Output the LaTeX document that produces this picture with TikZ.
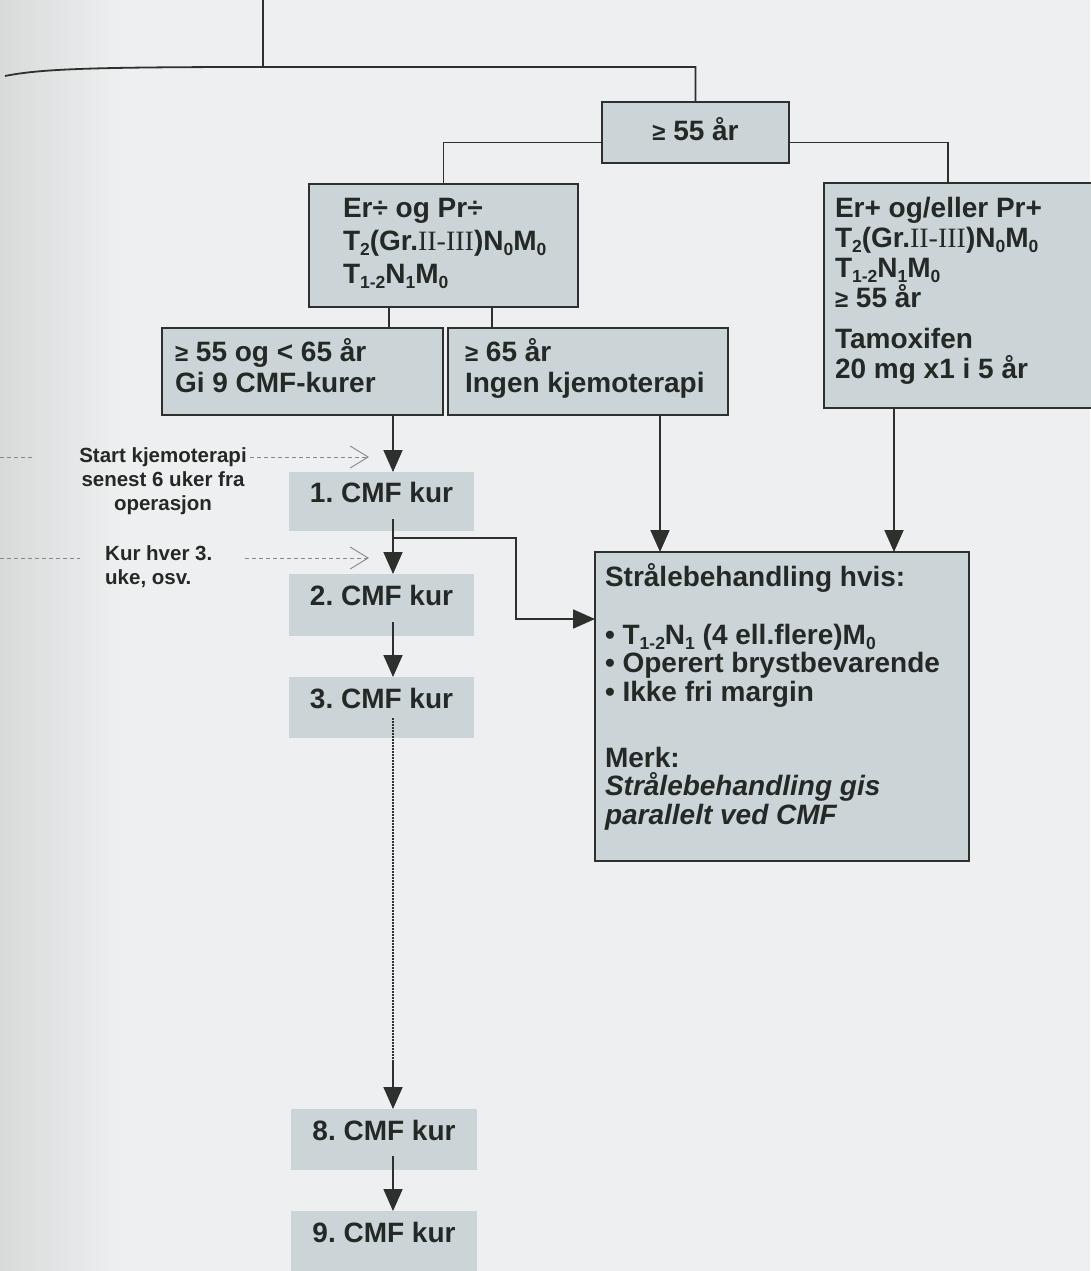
\documentclass[tikz,border=0pt]{standalone}
\usepackage{fontspec}
\setmainfont{Liberation Sans}
\newfontfamily\serifrm{Liberation Serif}
\usetikzlibrary{arrows.meta,calc}
\frenchspacing
\definecolor{bgc}{RGB}{238,239,240}
\definecolor{shadec}{RGB}{216,217,217}
\definecolor{boxc}{RGB}{203,212,215}
\definecolor{ink}{RGB}{36,41,37}
\definecolor{edge}{RGB}{45,48,45}
\definecolor{dashc}{RGB}{135,135,135}
\newcommand{\sbs}[1]{\raisebox{-5pt}{\fontsize{17.5}{17.5}\selectfont #1}}
\newcommand{\gesym}{{\fontsize{24}{24}\selectfont ≥}}
% h, w, leftskip, first baseline, baselineskip, content
\newcommand{\bxt}[6]{\parbox[c][#1][t]{#2}{\raggedright\leftskip=#3\fontsize{28}{#5}\selectfont\bfseries\rule{0pt}{#4}#6}}
% h, w, first baseline, content
\newcommand{\bxc}[4]{\parbox[c][#1][t]{#2}{\centering\fontsize{28}{30}\selectfont\bfseries\rule{0pt}{#3}#4}}
\begin{document}
\begin{tikzpicture}[x=1pt,y=-1pt,
  box/.style={draw=edge, line width=1.8pt, fill=boxc, inner sep=0pt, outer sep=0pt, text=ink},
  cmf/.style={fill=boxc, inner sep=0pt, outer sep=0pt, text=ink},
  ln/.style={line width=1.8pt, draw=edge},
  arr/.style={line width=1.8pt, draw=edge, -{Triangle[length=22pt,width=19pt]}},
  dotl/.style={line width=1.8pt, draw=edge, dash pattern=on 1.6pt off 1.4pt},
  dsh/.style={line width=0.9pt, draw=dashc, dash pattern=on 4pt off 3pt},
  dsharr/.style={dsh, -{Straight Barb[length=18pt,width=22pt,line width=0.9pt]}},
  side/.style={text=ink, font=\fontsize{20.5}{24}\selectfont\bfseries, inner sep=0pt}
]
\useasboundingbox (0,0) rectangle (1090,1271);
\fill[bgc] (0,0) rectangle (1090,1271);
\shade[left color=shadec, right color=bgc] (0,0) rectangle (120,1271);

% boxes
\node[box, minimum width=187pt, minimum height=61pt] (A) at (695.5,132.5)
  {\bxc{61pt}{187pt}{39pt}{\gesym{} 55 år}};
\node[box, minimum width=269pt, minimum height=123pt] (E1) at (443.5,245.5)
  {\bxt{123pt}{269pt}{34pt}{33pt}{33pt}{Er÷ og Pr÷\\
   T\sbs{2}(Gr.{\serifrm\mdseries II-III})N\sbs{0}M\sbs{0}\\
   T\sbs{1-2}N\sbs{1}M\sbs{0}}};
\node[box, minimum width=286pt, minimum height=225pt] (E2) at (967,295.5)
  {\bxt{225pt}{286pt}{11pt}{34pt}{30pt}{Er+ og/eller Pr+\\
   T\sbs{2}(Gr.{\serifrm\mdseries II-III})N\sbs{0}M\sbs{0}\\
   T\sbs{1-2}N\sbs{1}M\sbs{0}\\
   \gesym{} 55 år\\[11pt]
   Tamoxifen\\
   20 mg x1 i 5 år}};
\node[box, minimum width=281pt, minimum height=87pt] (B1) at (302.5,371.5)
  {\bxt{87pt}{281pt}{13pt}{33pt}{31pt}{\gesym{} 55 og < 65 år\\Gi 9 CMF-kurer}};
\node[box, minimum width=280pt, minimum height=87pt] (B2) at (588,371.5)
  {\bxt{87pt}{280pt}{17pt}{33pt}{31pt}{\gesym{} 65 år\\Ingen kjemoterapi}};

\node[cmf, minimum width=185pt, minimum height=59pt] (C1) at (381.5,501.5)
  {\bxc{59pt}{185pt}{30pt}{1. CMF kur}};
\node[cmf, minimum width=185pt, minimum height=62pt] (C2) at (381.5,605)
  {\bxc{62pt}{185pt}{31pt}{2. CMF kur}};
\node[cmf, minimum width=185pt, minimum height=61pt] (C3) at (381.5,707.5)
  {\bxc{61pt}{185pt}{31pt}{3. CMF kur}};
\node[cmf, minimum width=186pt, minimum height=61pt] (C8) at (384,1139.5)
  {\bxc{61pt}{186pt}{31pt}{8. CMF kur}};
\node[cmf, minimum width=186pt, minimum height=64pt] (C9) at (384,1243)
  {\bxc{64pt}{186pt}{31pt}{9. CMF kur}};

\node[box, minimum width=374pt, minimum height=309pt] (S) at (782,706.5)
  {\bxt{309pt}{374pt}{10pt}{34pt}{28.5pt}{Strålebehandling hvis:\\[29.5pt]
   • T\sbs{1-2}N\sbs{1} (4 ell.flere)M\sbs{0}\\
   • Operert brystbevarende\\
   • Ikke fri margin\\[37.5pt]
   Merk:\\
   \textit{Strålebehandling gis}\\
   \textit{parallelt ved CMF}}};

% side labels
\node[side, align=center] (L1) at (163,481)
  {Start kjemoterapi\\senest 6 uker fra\\operasjon};
\node[side, align=left, anchor=west] (L2) at (105,567)
  {Kur hver 3.\\uke, osv.};

% top connectors
\coordinate (t0) at (263,0);
\coordinate (hj) at (263,67);
\coordinate (h0) at (5,76);
\draw[ln] (t0) -- (hj);
\draw[ln] (h0) .. controls (40,69) and (90,67) .. (hj) -- (hj -| A.north) -- (A.north);

\coordinate (e2x) at (948,0);
\draw[ln] ($(A.west)+(0,10)$) -| (E1.north);
\draw[ln] ($(A.east)+(0,10)$) -| (e2x |- E2.north);

\coordinate (e1a) at (389,0);
\coordinate (e1b) at (492,0);
\draw[ln] (e1a |- E1.south) -- (e1a |- B1.north);
\draw[ln] (e1b |- E1.south) -- (e1b |- B2.north);

% CMF chain
\coordinate (ax) at (393,0);
\draw[arr] (ax |- B1.south) -- (ax |- C1.north);
\draw[arr] ($(ax |- C1.south)+(0,-12)$) -- (ax |- C2.north);
\draw[arr] ($(ax |- C1.south)+(0,7)$) -- ++(123,0) |- ($(S.north west)+(0,67)$);
\draw[arr] ($(ax |- C2.south)+(0,-14)$) -- (ax |- C3.north);
\coordinate (dd) at (393,1062);
\draw[dotl] ($(ax |- C3.south)+(0,-20)$) -- (dd);
\draw[arr] (dd) -- (ax |- C8.north);
\draw[arr] ($(ax |- C8.south)+(0,-14)$) -- (ax |- C9.north);

% to radiotherapy box
\coordinate (bx) at (660,0);
\coordinate (ex) at (894,0);
\draw[arr] (bx |- B2.south) -- (bx |- S.north);
\draw[arr] (ex |- E2.south) -- (ex |- S.north);

% dashed pointers
\coordinate (d1a) at (0,457);
\coordinate (d1b) at (33,457);
\coordinate (d1c) at (250,457);
\coordinate (d1d) at (369,457);
\draw[dsh] (d1a) -- (d1b);
\draw[dsharr] (d1c) -- (d1d);
\coordinate (d2a) at (0,558);
\coordinate (d2b) at (80,558);
\coordinate (d2c) at (245,558);
\coordinate (d2d) at (369,558);
\draw[dsh] (d2a) -- (d2b);
\draw[dsharr] (d2c) -- (d2d);
\end{tikzpicture}
\end{document}
